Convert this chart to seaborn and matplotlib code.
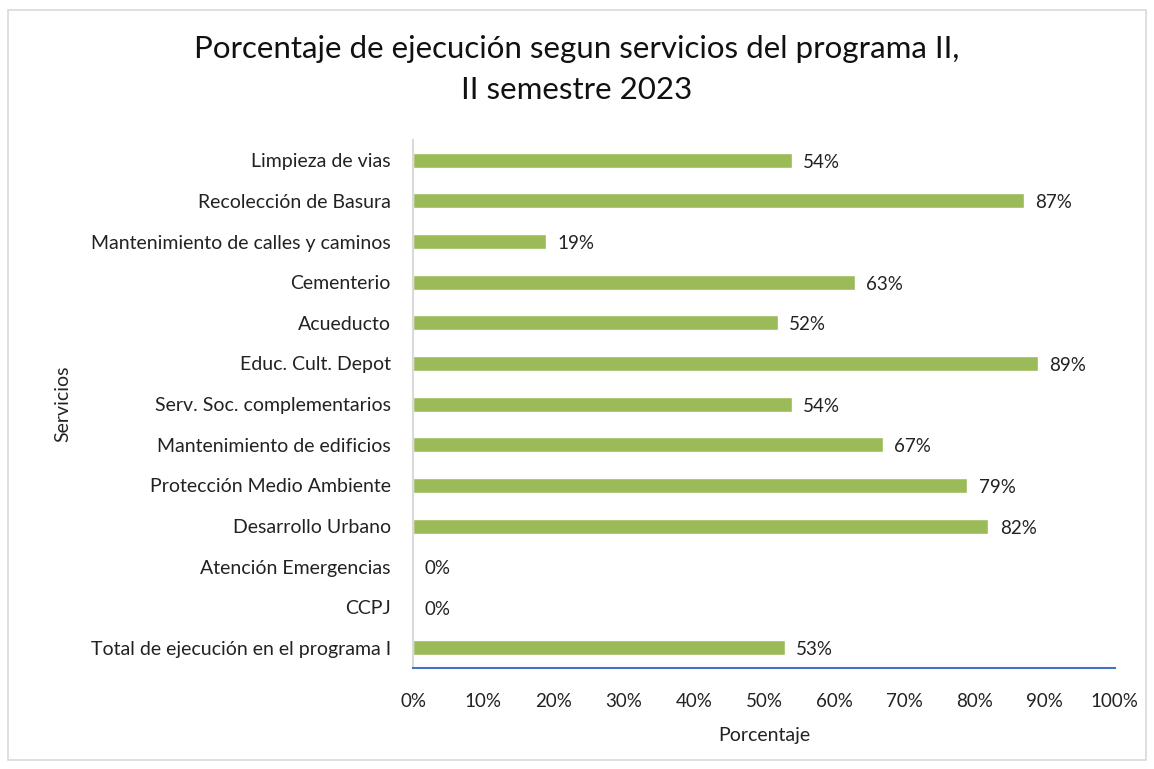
import pandas as pd
import matplotlib.pyplot as plt
import seaborn as sns
from matplotlib.patches import Rectangle
from matplotlib.ticker import PercentFormatter

servicios = [
    "Limpieza de vias",
    "Recolección de Basura",
    "Mantenimiento de calles y caminos",
    "Cementerio",
    "Acueducto",
    "Educ. Cult. Depot",
    "Serv. Soc. complementarios",
    "Mantenimiento de edificios",
    "Protección Medio Ambiente",
    "Desarrollo Urbano",
    "Atención Emergencias",
    "CCPJ",
    "Total de ejecución en el programa I",
]
porcentaje = [54, 87, 19, 63, 52, 89, 54, 67, 79, 82, 0, 0, 53]

df = pd.DataFrame({"Servicio": servicios, "Porcentaje": porcentaje})

sns.set_style("white")
plt.rcParams["font.family"] = ["Lato", "DejaVu Sans"]

fig = plt.figure(figsize=(11.54, 7.69), dpi=100)
ax = fig.add_axes([0.358, 0.131, 0.608, 0.687])

sns.barplot(data=df, x="Porcentaje", y="Servicio", color="#9BBB59",
            saturation=1, width=0.37, ax=ax, orient="h")

for i, v in enumerate(porcentaje):
    ax.text(v + 1.6, i + 0.05, f"{v}%", va="center", ha="left", fontsize=13.5, color="#222222")

ax.set_xlim(0, 100)
ax.set_xticks(range(0, 101, 10))
ax.xaxis.set_major_formatter(PercentFormatter(decimals=0))
ax.tick_params(axis="both", length=0, labelsize=13.5, colors="#222222")
ax.tick_params(axis="x", pad=18)
ax.tick_params(axis="y", labelsize=14, pad=16)

for s in ["top", "right"]:
    ax.spines[s].set_visible(False)
ax.spines["left"].set_color("#D9D9D9")
ax.spines["left"].set_linewidth(1.5)
ax.spines["bottom"].set_color("#4472C4")
ax.spines["bottom"].set_linewidth(1.5)

ax.set_xlabel("Porcentaje", fontsize=14, color="#222222", labelpad=12)
ax.set_ylabel("Servicios", fontsize=14, color="#222222", labelpad=14)

fig.suptitle("Porcentaje de ejecución segun servicios del programa II,\nII semestre 2023",
             fontsize=22.5, y=0.955, color="#111111", linespacing=1.6)

fig.patches.append(Rectangle((0.007, 0.012), 0.986, 0.975, transform=fig.transFigure,
                             fill=False, edgecolor="#D9D9D9", linewidth=1.2))

fig.savefig("out.png", dpi=100)
